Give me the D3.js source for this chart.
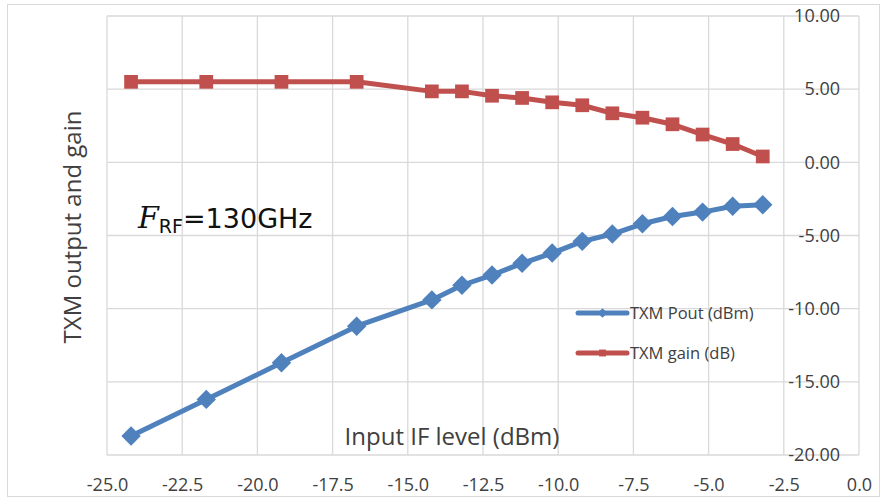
<!DOCTYPE html>
<html>
<head>
<meta charset="utf-8">
<script src="https://cdn.jsdelivr.net/npm/d3@7.9.0/dist/d3.min.js"></script>
<style>
  html, body { margin: 0; padding: 0; background: #fff; }
  svg { display: block; font-family: "Open Sans", sans-serif; }
</style>
</head>
<body>
<svg width="882" height="499"></svg>
<script>
// input IF level (dBm)
const inputLevel = [-24.2, -21.7, -19.2, -16.7, -14.2, -13.2, -12.2, -11.2, -10.2, -9.2, -8.2, -7.2, -6.2, -5.2, -4.2, -3.2];
const poutValues = [-18.7, -16.2, -13.7, -11.2, -9.4, -8.4, -7.7, -6.9, -6.2, -5.4, -4.9, -4.2, -3.7, -3.4, -3.0, -2.9];
const gainValues = [5.5, 5.5, 5.5, 5.5, 4.85, 4.85, 4.55, 4.4, 4.1, 3.9, 3.35, 3.05, 2.6, 1.9, 1.25, 0.4];
const xTicks = d3.range(-25, 0.01, 2.5);
const yTicks = d3.range(-20, 10.01, 5);

const series = [
  { name: 'TXM Pout (dBm)', values: poutValues, color: '#4F81BD', symbol: d3.symbolDiamond2 },
  { name: 'TXM gain (dB)',  values: gainValues, color: '#C0504D', symbol: d3.symbolSquare2 }
];

const svg = d3.select('svg');

const x = d3.scaleLinear().domain([-25, 0]).range([107, 859]);
const y = d3.scaleLinear().domain([-20, 10]).range([455, 16]);

// chart area border
svg.append('rect')
  .attr('x', 7.5).attr('y', 4.5)
  .attr('width', 872).attr('height', 492)
  .attr('fill', '#fff')
  .attr('stroke', '#D9D9D9');

// grid
const grid = svg.append('g').attr('stroke', '#D9D9D9').attr('stroke-width', 1.3);
grid.selectAll('.vx')
  .data(xTicks)
  .join('line')
    .attr('x1', d => x(d)).attr('x2', d => x(d))
    .attr('y1', y(10)).attr('y2', y(-20));
grid.selectAll('.hy')
  .data(yTicks)
  .join('line')
    .attr('x1', x(-25)).attr('x2', x(0))
    .attr('y1', d => y(d)).attr('y2', d => y(d));

// x tick labels
svg.append('g')
  .attr('transform', `translate(0,${y(-20)})`)
  .call(d3.axisBottom(x).tickValues(xTicks).tickFormat(d3.format('.1f')).tickSize(0).tickPadding(23))
  .call(g => g.select('.domain').remove())
  .call(g => g.selectAll('text').attr('font-size', 18).attr('fill', '#404040')
    .attr('font-family', '"Open Sans", sans-serif').text(d => d3.format('.1f')(d).replace('−', '-')));

// y tick labels (inside plot, near right edge)
svg.append('g')
  .attr('transform', 'translate(845,0)')
  .call(d3.axisLeft(y).tickValues(yTicks).tickFormat(d3.format('.2f')).tickSize(0).tickPadding(5))
  .call(g => g.select('.domain').remove())
  .call(g => g.selectAll('text').attr('font-size', 18).attr('fill', '#404040')
    .attr('font-family', '"Open Sans", sans-serif').text(d => d3.format('.2f')(d).replace('−', '-')));

// axis titles
svg.append('text')
  .attr('x', 452).attr('y', 437).attr('dy', '0.35em')
  .attr('text-anchor', 'middle')
  .attr('font-size', 24).attr('fill', '#404040')
  .text('Input IF level (dBm)');

svg.append('text')
  .attr('transform', 'translate(73,227) rotate(-90)')
  .attr('dy', '0.35em')
  .attr('text-anchor', 'middle')
  .attr('font-size', 24).attr('fill', '#404040')
  .text('TXM output and gain');

// lines + markers
const line = d3.line().x(d => x(d[0])).y(d => y(d[1]));
series.forEach(s => {
  const pts = inputLevel.map((v, i) => [v, s.values[i]]);
  svg.append('path')
    .datum(pts)
    .attr('d', line)
    .attr('fill', 'none')
    .attr('stroke', s.color)
    .attr('stroke-width', 5)
    .attr('stroke-linejoin', 'round');
  svg.append('g').selectAll('path')
    .data(pts)
    .join('path')
      .attr('transform', d => `translate(${x(d[0])},${y(d[1])})`)
      .attr('d', d3.symbol(s.symbol, 240))
      .attr('fill', s.color);
});

// annotation
const ann = svg.append('text').attr('x', 138).attr('y', 228).attr('fill', '#111');
ann.append('tspan')
  .attr('font-family', '"DejaVu Serif", serif').attr('font-style', 'italic')
  .attr('font-size', 30).text('F');
ann.append('tspan')
  .attr('font-family', '"DejaVu Sans", sans-serif').attr('font-size', 19)
  .attr('dy', 5).text('RF');
ann.append('tspan')
  .attr('font-family', '"DejaVu Sans", sans-serif').attr('font-size', 27)
  .attr('dy', -5).text('=130GHz');

// legend
const legend = svg.append('g');
series.forEach((s, i) => {
  const ly = 313 + i * 40;
  legend.append('line')
    .attr('x1', 578).attr('x2', 627)
    .attr('y1', ly).attr('y2', ly)
    .attr('stroke', s.color).attr('stroke-width', 5).attr('stroke-linecap', 'round');
  legend.append('path')
    .attr('transform', `translate(602.5,${ly})`)
    .attr('d', d3.symbol(s.symbol, 60))
    .attr('fill', s.color);
  legend.append('text')
    .attr('x', 630).attr('y', ly).attr('dy', '0.35em')
    .attr('font-size', 16.5).attr('fill', '#404040')
    .text(s.name);
});
</script>
</body>
</html>
